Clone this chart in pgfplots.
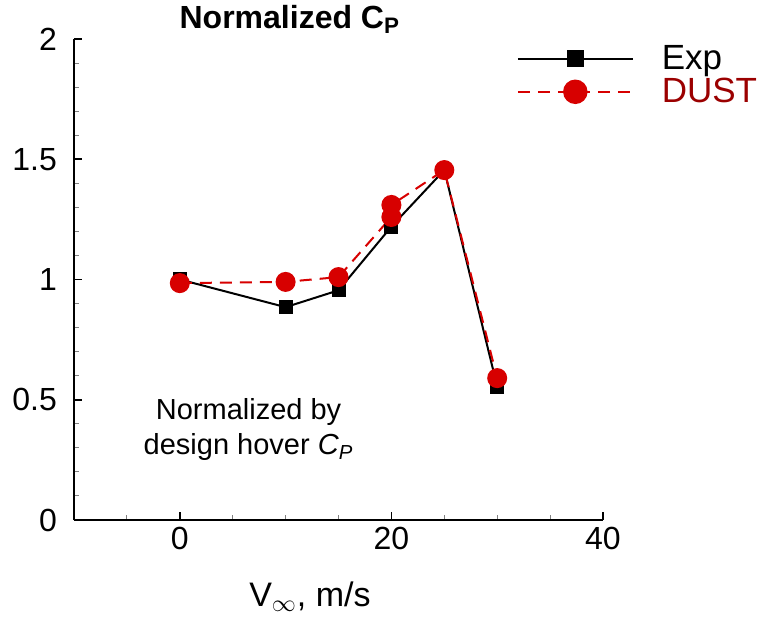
\documentclass[border=0pt]{standalone}
\usepackage{fontspec}
\setmainfont{Liberation Sans}
\usepackage{pgfplots}
\pgfplotsset{compat=1.18}
\definecolor{dustred}{RGB}{215,0,0}
\definecolor{dusttext}{RGB}{155,0,0}
\begin{document}
\begin{tikzpicture}
\useasboundingbox (-37pt,-50pt) rectangle (347.5pt,260pt);
\begin{axis}[
  at={(0,0)}, anchor=south west,
  scale only axis, width=264.5pt, height=240.5pt,
  xmin=-10, xmax=40, ymin=0, ymax=2,
  axis lines*=left,
  axis line style={line width=1pt},
  xtick={0,20,40}, ytick={0,0.5,1,1.5,2},
  minor xtick={-5,5,10,15,25,30,35},
  minor ytick={0.1,0.2,0.3,0.4,0.6,0.7,0.8,0.9,1.1,1.2,1.3,1.4,1.6,1.7,1.8,1.9},
  tick align=inside,
  major tick length=4pt, minor tick length=2.5pt,
  every major tick/.append style={line width=0.9pt, black},
  every minor tick/.append style={line width=0.5pt, gray},
  ticklabel style={font=\fontsize{16}{18}\selectfont},
  /pgf/number format/assume math mode=true,
  yticklabel style={xshift=-5pt},
  clip=false,
  legend style={at={(0.825,1.005)}, anchor=north west, draw=none, fill=none,
    font=\fontsize{17.5}{20}\selectfont, row sep=-1pt, cells={anchor=west},
    /tikz/every odd column/.append style={column sep=12pt}},
  legend image code/.code={\draw[mark repeat=2,mark phase=2,#1,
    every mark/.append style={scale=1.25}]
    plot coordinates {(0pt,0pt) (28.75pt,0pt) (57.5pt,0pt)};},
]
% experiment
\addplot[black, line width=1pt, mark=square*, mark size=3pt,
  mark options={solid, fill=black}] coordinates {
  (0,1.00)(10,0.885)(15,0.955)(20,1.22)(25,1.455)(30,0.555)
};
\addlegendentry{Exp}
% DUST
\addplot[dustred, line width=1pt, dash pattern=on 6pt off 4pt, mark=*, mark size=4.5pt,
  mark options={solid, fill=dustred}] coordinates {
  (0,0.985)(10,0.99)(15,1.01)(20,1.26)(20,1.31)(25,1.455)(30,0.59)
};
\addlegendentry{\textcolor{dusttext}{DUST}}
\node[font=\bfseries\fontsize{16}{19}\selectfont] at (axis cs:10.4,2.08) {Normalized C\textsubscript{P}};
\node[align=center, font=\fontsize{14.5}{17.5}\selectfont] at (axis cs:6.5,0.375)
  {Normalized by\\design hover \textit{C}\textsubscript{\textit{P}}};
\node[font=\fontsize{17}{20}\selectfont] at (axis cs:12.3,-0.32) {V\textsubscript{$\infty$}, m/s};
\end{axis}
\end{tikzpicture}
\end{document}
